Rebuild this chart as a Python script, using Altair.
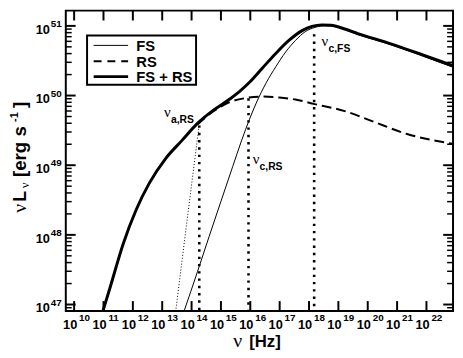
import math
import altair as alt
import pandas as pd

# ---------------- values (log10 units) ----------------
# FS + RS (thick solid)
sum_lognu = [10.975, 11.225, 11.67, 12.117, 12.566, 13.123, 13.683, 14.2, 14.746,
             15.302, 15.638, 15.973, 16.423, 16.868, 17.315, 17.764, 18.099,
             18.435, 18.75, 19.216, 19.662, 20.782, 21.899, 22.905]
sum_logL = [46.90, 47.245, 47.87, 48.364, 48.746, 49.099, 49.36, 49.60, 49.79,
            49.95, 50.06, 50.19, 50.40, 50.605, 50.791, 50.932, 50.993,
            51.014, 51.01, 50.955, 50.89, 50.743, 50.579, 50.428]
# FS (thin solid)
fs_lognu = [13.74, 14.2, 14.6, 15.0, 15.4, 15.7, 15.973, 16.2, 16.533, 16.868,
            17.204, 17.539, 17.874, 18.21, 18.545, 18.881, 19.662, 20.782,
            21.899, 22.905]
fs_logL = [46.90, 47.47, 47.98, 48.48, 48.98, 49.35, 49.66, 49.89, 50.177, 50.413,
           50.625, 50.791, 50.918, 50.979, 51.003, 50.99, 50.873, 50.731,
           50.562, 50.406]
# RS (dashed)
rs_lognu = [14.2, 14.746, 15.302, 15.862, 16.423, 16.979, 17.539, 18.153,
            19.216, 20.222, 21.339, 22.905]
rs_logL = [49.585, 49.775, 49.905, 49.965, 49.985, 49.972, 49.943, 49.881,
           49.777, 49.62, 49.448, 49.307]
# thin dotted branch below nu_a,RS
rsabs_lognu = [13.458, 13.793, 14.25]
rsabs_logL = [46.90, 48.03, 49.55]
# break frequencies (thick dotted verticals)
break_lognu = [14.262, 15.939, 18.175]
break_top_logL = [49.57, 49.96, 50.88]
# annotations
ann_sub = ["a,RS", "c,RS", "c,FS"]
ann_lognu = [13.062, 16.080, 18.428]
ann_logL = [49.686, 49.021, 50.717]
# ticks
x_tick_exp = list(range(10, 23))
y_tick_exp = [47, 48, 49, 50, 51]
legend_labels = ["FS", "RS", "FS + RS"]

X_MIN, X_MAX = 9.716, 22.905
Y_MIN, Y_MAX = 46.908, 51.219
W, H = 393.3, 305
SANS = "Liberation Sans"
SERIF = "Liberation Serif"

xs = alt.Scale(type="log", domain=[10 ** X_MIN, 10 ** X_MAX], nice=False)
ys = alt.Scale(type="log", domain=[10 ** Y_MIN, 10 ** Y_MAX], nice=False)
XE = alt.X("nu:Q", scale=xs, axis=None)
YE = alt.Y("L:Q", scale=ys, axis=None)

one = pd.DataFrame({"a": [0]})


def curve(lognu, logL, **style):
    df = pd.DataFrame({"nu": [10 ** v for v in lognu], "L": [10 ** v for v in logL]})
    return alt.Chart(df).mark_line(clip=True, color="black", **style).encode(x=XE, y=YE)


layers = []

# vertical dotted lines
brk = pd.DataFrame({"nu": [10 ** v for v in break_lognu],
                    "L": [10 ** v for v in break_top_logL],
                    "L0": [10 ** Y_MIN] * len(break_lognu)})
layers.append(alt.Chart(brk).mark_rule(color="black", strokeWidth=2.6, strokeDash=[2.4, 5])
              .encode(x=XE, y=YE, y2="L0:Q"))

layers.append(curve(rsabs_lognu, rsabs_logL, strokeWidth=1, strokeDash=[1, 2]))
layers.append(curve(rs_lognu, rs_logL, strokeWidth=2, strokeDash=[10, 5], interpolate="monotone"))
layers.append(curve(fs_lognu, fs_logL, strokeWidth=1, interpolate="monotone"))
layers.append(curve(sum_lognu, sum_logL, strokeWidth=3, interpolate="monotone"))

# ---------------- ticks (inward) ----------------
xt = pd.DataFrame({"nu": [10 ** e for e in x_tick_exp],
                   "base": ["10"] * len(x_tick_exp),
                   "sup": [str(e) for e in x_tick_exp]})
for y0, y1 in [(H, H - 10), (0, 10)]:
    layers.append(alt.Chart(xt).mark_rule(color="black", strokeWidth=2)
                  .encode(x=XE, y=alt.value(y0), y2=alt.value(y1)))

rows = []
for e in range(46, 52):
    for k in range(1, 10):
        v = e + math.log10(k)
        if Y_MIN < v < Y_MAX:
            rows.append({"L": 10 ** v, "major": k == 1})
ytk = pd.DataFrame(rows)
maj = ytk[ytk.major]
mnr = ytk[~ytk.major]
for df, ln, sw in [(maj, 10, 2), (mnr, 6, 1.5)]:
    layers.append(alt.Chart(df).mark_rule(color="black", strokeWidth=sw)
                  .encode(y=YE, x=alt.value(0), x2=alt.value(ln)))
    layers.append(alt.Chart(df).mark_rule(color="black", strokeWidth=sw)
                  .encode(y=YE, x=alt.value(W), x2=alt.value(W - ln)))

# ---------------- tick labels ----------------
layers.append(alt.Chart(xt).mark_text(align="center", baseline="alphabetic", dx=-4,
                                      fontSize=13, fontWeight="bold", font=SANS)
              .encode(x=XE, y=alt.value(H + 18), text="base:N"))
layers.append(alt.Chart(xt).mark_text(align="left", baseline="alphabetic", dx=5,
                                      fontSize=10, fontWeight="bold", font=SANS)
              .encode(x=XE, y=alt.value(H + 10), text="sup:N"))

yl = pd.DataFrame({"L": [10 ** e for e in y_tick_exp],
                   "base": ["10"] * len(y_tick_exp),
                   "sup": [str(e) for e in y_tick_exp]})
layers.append(alt.Chart(yl).mark_text(align="right", baseline="alphabetic", dy=8,
                                      fontSize=13, fontWeight="bold", font=SANS)
              .encode(y=YE, x=alt.value(-16.2), text="base:N"))
layers.append(alt.Chart(yl).mark_text(align="left", baseline="alphabetic", dy=1,
                                      fontSize=10, fontWeight="bold", font=SANS)
              .encode(y=YE, x=alt.value(-15.2), text="sup:N"))

# ---------------- annotations ----------------
ann = pd.DataFrame({"nu": [10 ** v for v in ann_lognu], "L": [10 ** v for v in ann_logL],
                    "nu_t": ["ν"] * len(ann_sub), "sub": ann_sub})
layers.append(alt.Chart(ann).mark_text(align="left", baseline="alphabetic", fontSize=15, font=SERIF)
              .encode(x=XE, y=YE, text="nu_t:N"))
layers.append(alt.Chart(ann).mark_text(align="left", baseline="alphabetic", dx=7, dy=6,
                                       fontSize=10.5, fontWeight="bold", font=SANS)
              .encode(x=XE, y=YE, text="sub:N"))

# ---------------- legend ----------------
layers.append(alt.Chart(one).mark_rect(fill="white", stroke="black", strokeWidth=2)
              .encode(x=alt.value(21.6), x2=alt.value(132.3), y=alt.value(25.3), y2=alt.value(75.3)))
leg_styles = [dict(strokeWidth=1), dict(strokeWidth=2, strokeDash=[8, 6]), dict(strokeWidth=3)]
leg_rows = [35.3, 51.3, 67.0]
for lab, st, ry in zip(legend_labels, leg_styles, leg_rows):
    layers.append(alt.Chart(one).mark_rule(color="black", **st)
                  .encode(x=alt.value(28.3), x2=alt.value(63.3), y=alt.value(ry)))
    layers.append(alt.Chart(one).mark_text(text=lab, align="left", baseline="alphabetic",
                                           fontSize=15, fontWeight="bold", font=SANS)
                  .encode(x=alt.value(71.6), y=alt.value(ry + 5.5)))


# ---------------- axis titles ----------------
def txt(t, x, y, size, font=SANS, bold=True, angle=0):
    kw = dict(text=t, align="left", baseline="alphabetic", fontSize=size, font=font)
    if bold:
        kw["fontWeight"] = "bold"
    if angle:
        kw["angle"] = angle
    return alt.Chart(one).mark_text(**kw).encode(x=alt.value(x), y=alt.value(y))


layers += [
    txt("ν", -40, 205.3, 20, SERIF, False, 270),
    txt("L", -40, 194, 18, angle=270),
    txt("ν", -37.7, 180.5, 13, SERIF, False, 270),
    txt("[erg s", -40, 169, 19, angle=270),
    txt("-1", -48.2, 113, 11, angle=270),
    txt("]", -40, 99, 19, angle=270),
    txt("ν", 170, 341.5, 20, SERIF, False),
    txt("[Hz]", 186.3, 341.5, 17),
]

chart = alt.layer(*layers).properties(
    width=W, height=H,
    autosize=alt.AutoSizeParams(type="none"),
    padding={"left": 58.7, "top": 0, "right": 2, "bottom": 37},
).configure_view(stroke="black", strokeWidth=2)

chart.save("out.html", embed_options={"renderer": "svg", "actions": False})
